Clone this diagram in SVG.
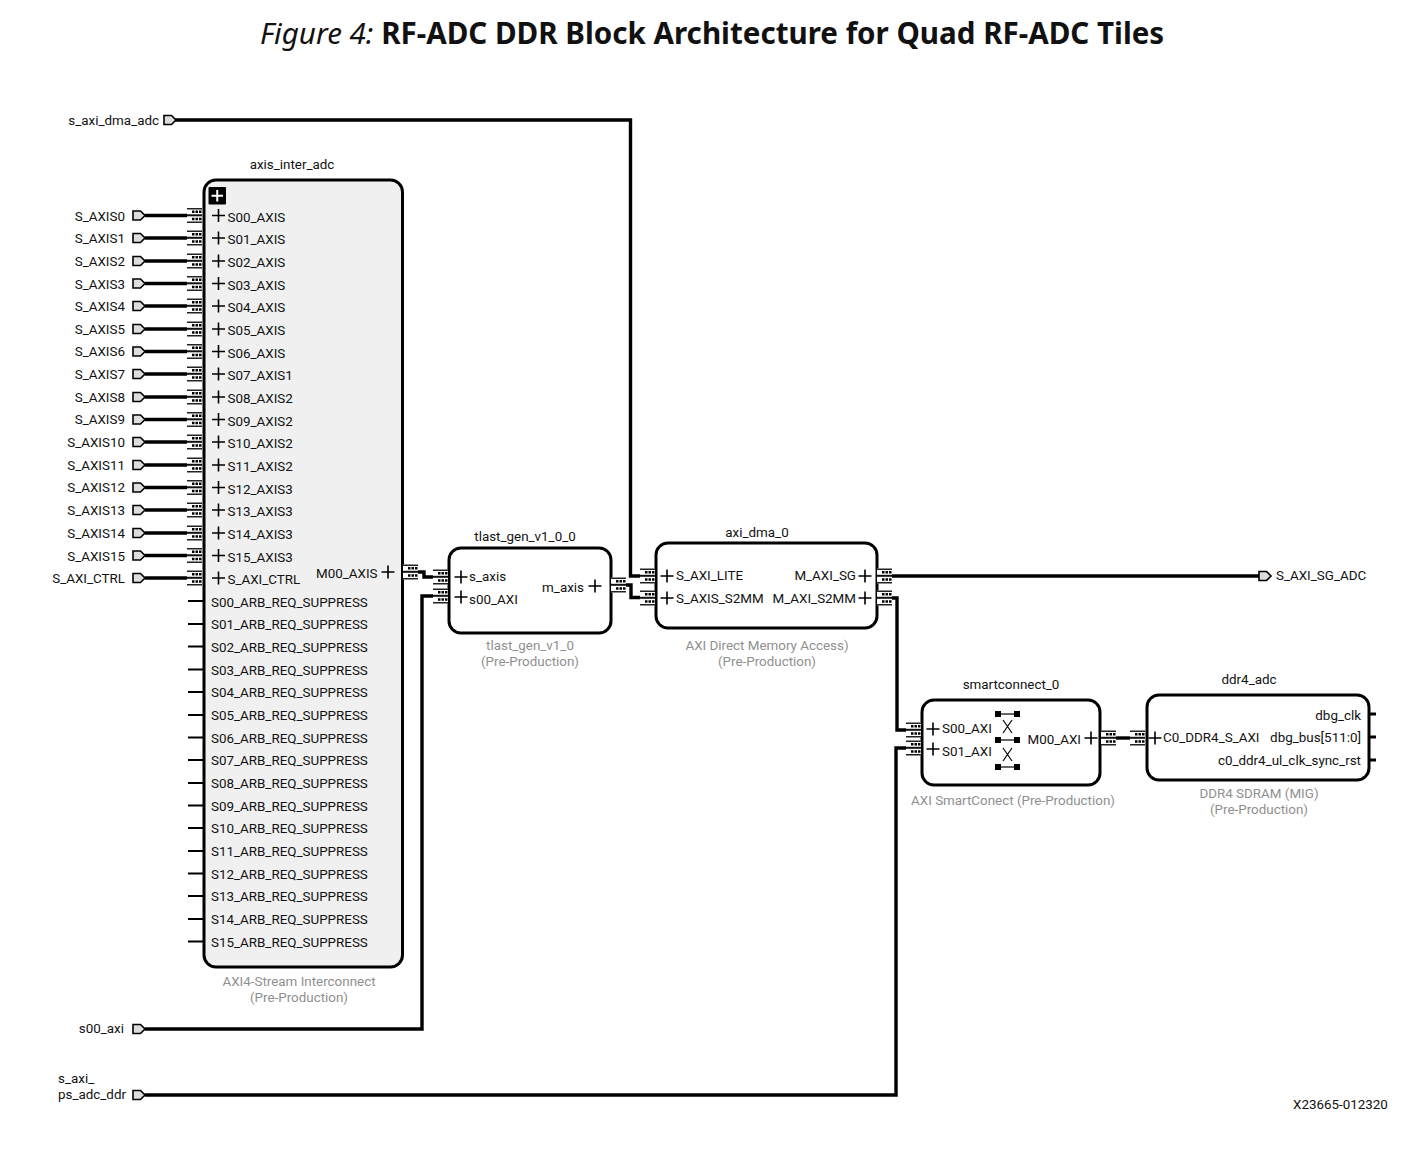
<svg xmlns="http://www.w3.org/2000/svg" width="1408" height="1171" viewBox="0 0 1408 1171">
<style>
text{font-family:Roboto,"Liberation Sans",sans-serif;font-size:13.4px;fill:#111}
.g{fill:#8f8f8f;text-anchor:middle}
.m{text-anchor:middle}
.e{text-anchor:end}
.box{fill:#fff;stroke:#000;stroke-width:3}
.wire{fill:none;stroke:#000;stroke-width:3.4}
.stub{fill:none;stroke:#000;stroke-width:2}
.title{font-family:"Noto Sans","Open Sans",sans-serif;font-size:29.57px;fill:#111}
</style>
<defs>
<g id="bus">
<rect x="0" y="-7.500" width="15" height="15" fill="#fff"/>
<path d="M0 -6.800H15M0 6.800H15" stroke="#222" stroke-width="1.600" fill="none"/>
<path d="M0 -0.200H15" stroke="#111" stroke-width="2" fill="none"/>
<path d="M5 -3.700h2.500M8.500 -3.700h2.500M12 -3.700h2.500M5 3.500h2.500M8.500 3.500h2.500M12 3.500h2.500" stroke="#000" stroke-width="2.500" fill="none"/>
</g>
<path id="port" d="M0 -4.500H7.500L12 0L7.500 4.500H0Z" fill="#ddd" stroke="#000" stroke-width="1.600"/>
<path id="plus" d="M-6.500 0H6.500M0 -6.500V6.500" stroke="#000" stroke-width="1.600" fill="none"/>
<g id="xicon">
<rect x="-3" y="-3" width="6" height="6"/><rect x="16" y="-3" width="6" height="6"/>
<path d="M2 0H17" stroke="#000" stroke-width="1.200"/>
</g>
</defs>

<g id="title"><text class="title" x="260" y="44"><tspan font-style="italic">Figure 4: </tspan><tspan font-weight="700">RF-ADC DDR Block Architecture for Quad RF-ADC Tiles</tspan></text></g>

<g id="connectors">
<path class="wire" d="M175 120H630.500V576H642"/>
<path class="wire" d="M145 215.500H195M145 238H195M145 261H195M145 283.500H195M145 306H195M145 329H195M145 351.500H195M145 374H195M145 397H195M145 419.500H195M145 442H195M145 465H195M145 487.500H195M145 510H195M145 533H195M145 555.500H195M145 578H195"/>
<path class="wire" d="M416 572H424V577H436"/>
<path class="wire" d="M145 1029H422V596H436"/>
<path class="wire" d="M622 585H631V597.500H642"/>
<path class="wire" d="M890 576H1259"/>
<path class="wire" d="M890 598H897V730H908"/>
<path class="wire" d="M145 1095H896V748H908"/>
<path class="wire" d="M1114 738H1136"/>
</g>

<g id="ports">
<text class="e" x="159" y="125">s_axi_dma_adc</text><use href="#port" x="164" y="120"/>
<text class="e" x="125" y="221">S_AXIS0</text><use href="#port" x="133" y="215.500"/>
<text class="e" x="125" y="243">S_AXIS1</text><use href="#port" x="133" y="238"/>
<text class="e" x="125" y="266">S_AXIS2</text><use href="#port" x="133" y="261"/>
<text class="e" x="125" y="289">S_AXIS3</text><use href="#port" x="133" y="283.500"/>
<text class="e" x="125" y="311">S_AXIS4</text><use href="#port" x="133" y="306"/>
<text class="e" x="125" y="334">S_AXIS5</text><use href="#port" x="133" y="329"/>
<text class="e" x="125" y="356">S_AXIS6</text><use href="#port" x="133" y="351.500"/>
<text class="e" x="125" y="379">S_AXIS7</text><use href="#port" x="133" y="374"/>
<text class="e" x="125" y="402">S_AXIS8</text><use href="#port" x="133" y="397"/>
<text class="e" x="125" y="424">S_AXIS9</text><use href="#port" x="133" y="419.500"/>
<text class="e" x="125" y="447">S_AXIS10</text><use href="#port" x="133" y="442"/>
<text class="e" x="125" y="470">S_AXIS11</text><use href="#port" x="133" y="465"/>
<text class="e" x="125" y="492">S_AXIS12</text><use href="#port" x="133" y="487.500"/>
<text class="e" x="125" y="515">S_AXIS13</text><use href="#port" x="133" y="510"/>
<text class="e" x="125" y="538">S_AXIS14</text><use href="#port" x="133" y="533"/>
<text class="e" x="125" y="561">S_AXIS15</text><use href="#port" x="133" y="555.500"/>
<text class="e" x="125" y="583">S_AXI_CTRL</text><use href="#port" x="133" y="578"/>
<text class="e" x="124" y="1033">s00_axi</text><use href="#port" x="133" y="1029"/>
<text x="58" y="1083">s_axi_</text><text x="58" y="1099">ps_adc_ddr</text><use href="#port" x="133" y="1095"/>
<use href="#port" x="1259" y="576"/><text x="1276" y="580">S_AXI_SG_ADC</text>
</g>

<g id="axis_inter_adc">
<text class="m" x="292" y="169">axis_inter_adc</text>
<g id="axis_inter_buses">
<use href="#bus" x="187" y="215.500"/><use href="#bus" x="187" y="238"/><use href="#bus" x="187" y="261"/><use href="#bus" x="187" y="283.500"/><use href="#bus" x="187" y="306"/><use href="#bus" x="187" y="329"/><use href="#bus" x="187" y="351.500"/><use href="#bus" x="187" y="374"/><use href="#bus" x="187" y="397"/><use href="#bus" x="187" y="419.500"/><use href="#bus" x="187" y="442"/><use href="#bus" x="187" y="465"/><use href="#bus" x="187" y="487.500"/><use href="#bus" x="187" y="510"/><use href="#bus" x="187" y="533"/><use href="#bus" x="187" y="555.500"/><use href="#bus" x="187" y="578"/>
</g>
<path class="stub" d="M188 601H204M188 624H204M188 646.500H204M188 669.500H204M188 692H204M188 715H204M188 737.500H204M188 760H204M188 783H204M188 805.500H204M188 828H204M188 851H204M188 873.500H204M188 896H204M188 919H204M188 941.500H204"/>
<rect class="box" x="204" y="180" width="198.500" height="787" rx="12" style="fill:#f0f0f0"/>
<rect x="208.500" y="187" width="17.500" height="17.500" rx="1" fill="#000"/>
<path d="M211.500 195.750H223M217.250 190V201.500" stroke="#fff" stroke-width="2"/>
<use href="#plus" x="218.500" y="215.500"/><text x="227.500" y="222">S00_AXIS</text>
<use href="#plus" x="218.500" y="238"/><text x="227.500" y="244">S01_AXIS</text>
<use href="#plus" x="218.500" y="261"/><text x="227.500" y="267">S02_AXIS</text>
<use href="#plus" x="218.500" y="283.500"/><text x="227.500" y="290">S03_AXIS</text>
<use href="#plus" x="218.500" y="306"/><text x="227.500" y="312">S04_AXIS</text>
<use href="#plus" x="218.500" y="329"/><text x="227.500" y="335">S05_AXIS</text>
<use href="#plus" x="218.500" y="351.500"/><text x="227.500" y="358">S06_AXIS</text>
<use href="#plus" x="218.500" y="374"/><text x="227.500" y="380">S07_AXIS1</text>
<use href="#plus" x="218.500" y="397"/><text x="227.500" y="403">S08_AXIS2</text>
<use href="#plus" x="218.500" y="419.500"/><text x="227.500" y="426">S09_AXIS2</text>
<use href="#plus" x="218.500" y="442"/><text x="227.500" y="448">S10_AXIS2</text>
<use href="#plus" x="218.500" y="465"/><text x="227.500" y="471">S11_AXIS2</text>
<use href="#plus" x="218.500" y="487.500"/><text x="227.500" y="494">S12_AXIS3</text>
<use href="#plus" x="218.500" y="510"/><text x="227.500" y="516">S13_AXIS3</text>
<use href="#plus" x="218.500" y="533"/><text x="227.500" y="539">S14_AXIS3</text>
<use href="#plus" x="218.500" y="555.500"/><text x="227.500" y="562">S15_AXIS3</text>
<use href="#plus" x="218.500" y="578"/><text x="227.500" y="584">S_AXI_CTRL</text>
<text x="316" y="578">M00_AXIS</text><use href="#plus" x="388" y="572"/>
<use href="#bus" x="403" y="572"/>
<text x="211" y="607">S00_ARB_REQ_SUPPRESS</text>
<text x="211" y="629">S01_ARB_REQ_SUPPRESS</text>
<text x="211" y="652">S02_ARB_REQ_SUPPRESS</text>
<text x="211" y="675">S03_ARB_REQ_SUPPRESS</text>
<text x="211" y="697">S04_ARB_REQ_SUPPRESS</text>
<text x="211" y="720">S05_ARB_REQ_SUPPRESS</text>
<text x="211" y="743">S06_ARB_REQ_SUPPRESS</text>
<text x="211" y="765">S07_ARB_REQ_SUPPRESS</text>
<text x="211" y="788">S08_ARB_REQ_SUPPRESS</text>
<text x="211" y="811">S09_ARB_REQ_SUPPRESS</text>
<text x="211" y="833">S10_ARB_REQ_SUPPRESS</text>
<text x="211" y="856">S11_ARB_REQ_SUPPRESS</text>
<text x="211" y="879">S12_ARB_REQ_SUPPRESS</text>
<text x="211" y="901">S13_ARB_REQ_SUPPRESS</text>
<text x="211" y="924">S14_ARB_REQ_SUPPRESS</text>
<text x="211" y="947">S15_ARB_REQ_SUPPRESS</text>
<text class="g" x="299" y="986">AXI4-Stream Interconnect</text>
<text class="g" x="299" y="1002">(Pre-Production)</text>
</g>

<g id="tlast_gen_v1_0_0">
<text class="m" x="525" y="541">tlast_gen_v1_0_0</text>
<rect class="box" x="449" y="548" width="162" height="85" rx="12"/>
<use href="#bus" x="433" y="577"/><use href="#bus" x="433" y="596"/>
<use href="#plus" x="461" y="577"/><text x="469" y="581">s_axis</text>
<use href="#plus" x="461" y="597"/><text x="469" y="604">s00_AXI</text>
<text class="e" x="584" y="592">m_axis</text><use href="#plus" x="595" y="586"/>
<use href="#bus" x="611" y="585"/>
<text class="g" x="530" y="650">tlast_gen_v1_0</text>
<text class="g" x="530" y="666">(Pre-Production)</text>
</g>

<g id="axi_dma_0">
<text class="m" x="757" y="537">axi_dma_0</text>
<rect class="box" x="656" y="543" width="221" height="85" rx="12"/>
<use href="#bus" x="640" y="576"/><use href="#bus" x="640" y="598"/>
<use href="#plus" x="667" y="576"/><text x="676" y="580">S_AXI_LITE</text>
<use href="#plus" x="667" y="598"/><text x="676" y="603">S_AXIS_S2MM</text>
<text class="e" x="856" y="580">M_AXI_SG</text><use href="#plus" x="865" y="576"/>
<text class="e" x="856" y="603">M_AXI_S2MM</text><use href="#plus" x="865" y="598"/>
<use href="#bus" x="877" y="576"/><use href="#bus" x="877" y="598"/>
<text class="g" x="767" y="650">AXI Direct Memory Access)</text>
<text class="g" x="767" y="666">(Pre-Production)</text>
</g>

<g id="smartconnect_0">
<text class="m" x="1011" y="689">smartconnect_0</text>
<rect class="box" x="922" y="700" width="178" height="85" rx="12"/>
<use href="#bus" x="906" y="730"/><use href="#bus" x="906" y="748"/>
<use href="#plus" x="933" y="729"/><text x="942" y="733">S00_AXI</text>
<use href="#plus" x="933" y="749"/><text x="942" y="756">S01_AXI</text>
<use href="#xicon" x="998" y="714"/><use href="#xicon" x="998" y="740"/><use href="#xicon" x="998" y="767"/>
<path d="M1003 720L1012 733M1012 720L1003 733M1003 748L1012 761M1012 748L1003 761" stroke="#000" stroke-width="1.200" fill="none"/>
<text class="e" x="1081" y="744">M00_AXI</text><use href="#plus" x="1091" y="738"/>
<use href="#bus" x="1101" y="738"/>
<text class="g" x="1013" y="805">AXI SmartConect (Pre-Production)</text>
</g>

<g id="ddr4_adc">
<text class="m" x="1249" y="684">ddr4_adc</text>
<path class="stub" style="stroke-width:3" d="M1369 714H1376M1369 737H1376M1369 760H1376"/>
<rect class="box" x="1147" y="695" width="222" height="85" rx="12"/>
<use href="#bus" x="1130" y="738"/>
<use href="#plus" x="1155" y="738"/><text x="1163" y="742">C0_DDR4_S_AXI</text>
<text class="e" x="1361" y="720">dbg_clk</text>
<text class="e" x="1361" y="742">dbg_bus[511:0]</text>
<text class="e" x="1361" y="765">c0_ddr4_ul_clk_sync_rst</text>
<text class="g" x="1259" y="798">DDR4 SDRAM (MIG)</text>
<text class="g" x="1259" y="814">(Pre-Production)</text>
</g>

<g id="figure-id"><text x="1293" y="1109">X23665-012320</text></g>
</svg>
